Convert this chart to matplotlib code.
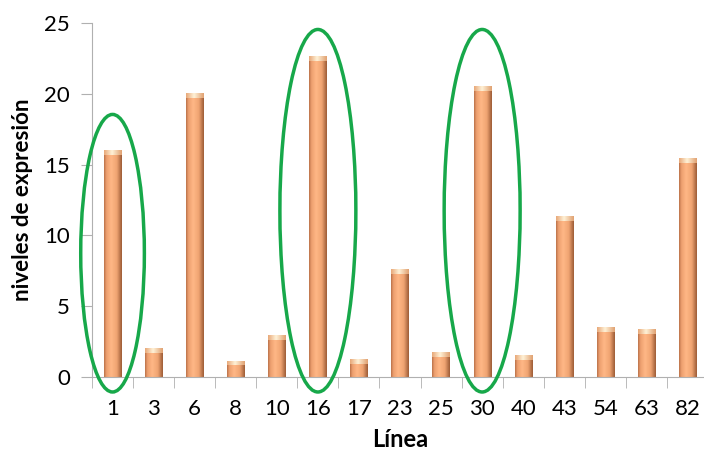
import numpy as np
import matplotlib
matplotlib.use("Agg")
from matplotlib import pyplot as plt
from matplotlib.colors import LinearSegmentedColormap
from matplotlib.patches import Ellipse

# data
lineas = ['1', '3', '6', '8', '10', '16', '17', '23', '25', '30', '40', '43', '54', '63', '82']
niveles = [16.0, 2.0, 20.0, 1.1, 2.9, 22.6, 1.2, 7.6, 1.7, 20.5, 1.5, 11.3, 3.5, 3.3, 15.4]
marcadas = ['1', '16', '30']
alto_elipse = [19.6, 25.6, 25.6]
ancho_elipse = [1.55, 1.85, 1.85]

plt.rcParams['font.family'] = ['Lato', 'DejaVu Sans']

fig = plt.figure(figsize=(7.04, 4.59), dpi=100)
ax = fig.add_axes([0.1307, 0.1787, 0.875, 0.7713])

x = np.arange(len(lineas))
ancho = 0.42
bars = ax.bar(x, niveles, width=ancho, color='none', edgecolor='none', zorder=2)

# cylinder-like horizontal gradient, like the Excel bars
cmap = LinearSegmentedColormap.from_list(
    'cil', [(0.0, '#b87048'), (0.12, '#ec9e6e'), (0.4, '#ffb886'),
            (0.72, '#f0a472'), (1.0, '#9c5c36')])
grad = np.linspace(0, 1, 64).reshape(1, -1)
cap = LinearSegmentedColormap.from_list(
    'cap', [(0.0, '#e8a878'), (0.45, '#fff2d8'), (1.0, '#e0a070')])
for b in bars:
    x0, w, h = b.get_x(), b.get_width(), b.get_height()
    ax.imshow(grad, cmap=cmap, aspect='auto', extent=(x0, x0 + w, 0, h),
              zorder=2, interpolation='bicubic')
    ch = min(0.3, h * 0.25)
    ax.imshow(grad, cmap=cap, aspect='auto', extent=(x0, x0 + w, h - ch, h),
              zorder=3, interpolation='bicubic')

# green ellipses around marked lines
for lab, alto, anc in zip(marcadas, alto_elipse, ancho_elipse):
    i = lineas.index(lab)
    e = Ellipse((i, -1.06 + alto / 2), anc, alto, fill=False,
                edgecolor='#17a84a', lw=2.5, clip_on=False, zorder=4)
    ax.add_patch(e)

ax.set_xlim(-0.5, len(lineas) - 0.5)
ax.set_ylim(0, 25)
ax.set_yticks([0, 5, 10, 15, 20, 25])
ax.set_xticks(x)
ax.set_xticklabels(lineas)
ax.set_xticks(np.arange(len(lineas) + 1) - 0.5, minor=True)
ax.tick_params(axis='x', which='major', length=0, pad=16, labelsize=16)
ax.tick_params(axis='x', which='minor', length=8, color='#b0b0b0')
ax.tick_params(axis='y', length=8, color='#b0b0b0', pad=8, labelsize=16)

for s in ['top', 'right']:
    ax.spines[s].set_visible(False)
for s in ['left', 'bottom']:
    ax.spines[s].set_color('#b0b0b0')

ax.set_xlabel('Línea', fontsize=17, fontweight='bold', labelpad=6)
ax.set_ylabel('niveles de expresión', fontsize=16, fontweight='bold', labelpad=8)

fig.savefig('out.png', dpi=100)
